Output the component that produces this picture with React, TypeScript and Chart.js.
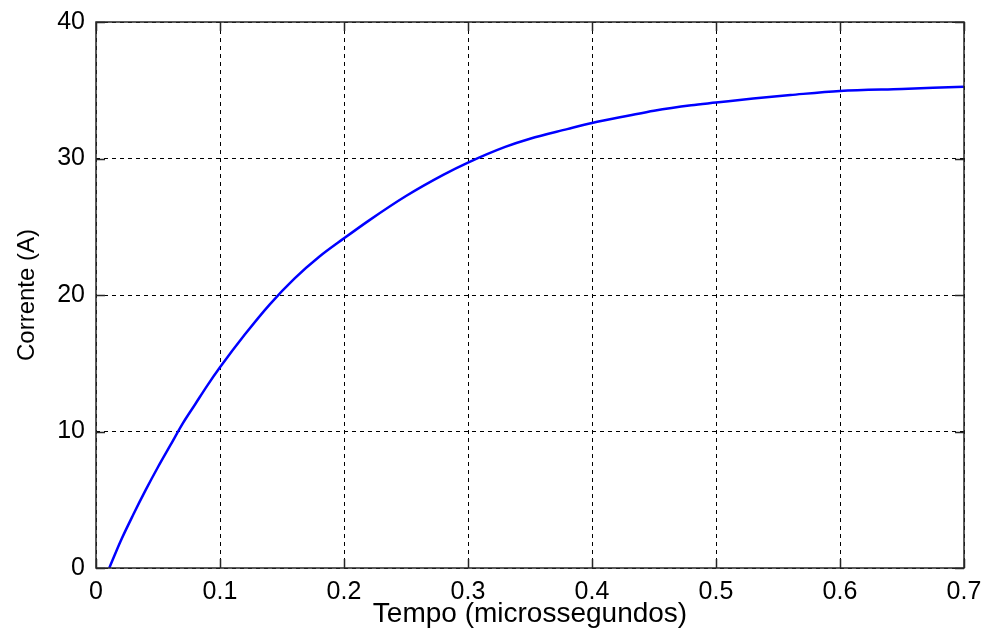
import React, { useEffect, useRef } from "react";
import { Chart, registerables } from "chart.js";

Chart.register(...registerables);

// Tempo (microssegundos)
const timeUs = [
  0.0107, 0.02, 0.03, 0.04, 0.05, 0.06, 0.07, 0.08, 0.09, 0.1,
  0.12, 0.14, 0.16, 0.18, 0.2, 0.22, 0.25, 0.28, 0.3, 0.33,
  0.35, 0.38, 0.4, 0.43, 0.45, 0.48, 0.5, 0.53, 0.56, 0.6, 0.65, 0.7,
];
// Corrente (A)
const currentA = [
  0, 2.0, 3.9, 5.7, 7.4, 9.0, 10.6, 12.0, 13.4, 14.7,
  17.1, 19.3, 21.2, 22.8, 24.15, 25.45, 27.25, 28.8, 29.7, 30.85,
  31.45, 32.15, 32.6, 33.15, 33.5, 33.9, 34.1, 34.4, 34.65, 34.95, 35.1, 35.25,
];

const xTicks = [0, 0.1, 0.2, 0.3, 0.4, 0.5, 0.6, 0.7];
const xTickLabels = ["0", "0.1", "0.2", "0.3", "0.4", "0.5", "0.6", "0.7"];
const yTicks = [0, 10, 20, 30, 40];
const yTickLabels = ["0", "10", "20", "30", "40"];

const FONT = "'Liberation Sans', Arial, Helvetica, sans-serif";

const boxPlugin = {
  id: "matlabBox",
  afterDraw(chart: any) {
    const { ctx, chartArea, scales } = chart;
    const { left, right, top, bottom } = chartArea;
    const x = scales.x;
    const y = scales.y;
    ctx.save();
    ctx.setLineDash([]);
    ctx.strokeStyle = "#262626";
    ctx.lineWidth = 1.5;
    ctx.strokeRect(left, top, right - left, bottom - top);
    const L = 9;
    ctx.beginPath();
    xTicks.forEach((v) => {
      const px = Math.round(x.getPixelForValue(v)) + 0.5;
      ctx.moveTo(px, bottom);
      ctx.lineTo(px, bottom - L);
      ctx.moveTo(px, top);
      ctx.lineTo(px, top + L);
    });
    yTicks.forEach((v) => {
      const py = Math.round(y.getPixelForValue(v)) + 0.5;
      ctx.moveTo(left, py);
      ctx.lineTo(left + L, py);
      ctx.moveTo(right, py);
      ctx.lineTo(right - L, py);
    });
    ctx.stroke();
    ctx.restore();
  },
};

export default function App() {
  const canvasRef = useRef<HTMLCanvasElement | null>(null);

  useEffect(() => {
    const canvas = canvasRef.current;
    if (!canvas) return;
    const points = timeUs.map((t, i) => ({ x: t, y: currentA[i] }));
    const chart = new Chart(canvas, {
      type: "line",
      data: {
        datasets: [
          {
            data: points,
            borderColor: "#0000ff",
            borderWidth: 2.5,
            pointRadius: 0,
            fill: false,
            cubicInterpolationMode: "monotone",
          },
        ],
      },
      options: {
        responsive: false,
        animation: false,
        devicePixelRatio: 1,
        layout: { padding: { left: 0, top: 22, right: 22, bottom: 0 } },
        plugins: {
          legend: { display: false },
          tooltip: { enabled: false },
        },
        scales: {
          x: {
            type: "linear",
            min: 0,
            max: 0.7,
            afterBuildTicks: (scale: any) => {
              scale.ticks = xTicks.map((v) => ({ value: v }));
            },
            afterFit: (scale: any) => {
              scale.height = 67;
              scale.paddingLeft = 0;
              scale.paddingRight = 0;
            },
            grid: {
              color: "#000000",
              lineWidth: 1,
              drawTicks: false,
            },
            border: { display: false, dash: [4, 4] },
            ticks: {
              color: "#000000",
              padding: 9,
              maxRotation: 0,
              autoSkip: false,
              font: { family: FONT, size: 25 },
              callback: (_v: any, i: number) => xTickLabels[i],
            },
            title: {
              display: true,
              text: "Tempo (microssegundos)",
              color: "#000000",
              font: { family: FONT, size: 28 },
              padding: { top: 0, bottom: 4 },
            },
          },
          y: {
            type: "linear",
            min: 0,
            max: 40,
            afterBuildTicks: (scale: any) => {
              scale.ticks = yTicks.map((v) => ({ value: v }));
            },
            afterFit: (scale: any) => {
              scale.width = 96;
              scale.paddingTop = 0;
              scale.paddingBottom = 0;
            },
            grid: {
              color: "#000000",
              lineWidth: 1,
              drawTicks: false,
            },
            border: { display: false, dash: [4, 4] },
            ticks: {
              color: "#000000",
              padding: 11,
              autoSkip: false,
              font: { family: FONT, size: 25 },
              callback: (_v: any, i: number) => yTickLabels[i],
            },
            title: {
              display: true,
              text: "Corrente (A)",
              color: "#000000",
              font: { family: FONT, size: 24 },
              padding: { top: 13, bottom: 0 },
            },
          },
        },
      },
      plugins: [boxPlugin],
    } as any);
    return () => chart.destroy();
  }, []);

  return (
    <div style={{ position: "fixed", left: 0, top: 0, width: 986, height: 635, background: "#fff" }}>
      <canvas ref={canvasRef} width={986} height={635} style={{ display: "block", width: 986, height: 635 }} />
    </div>
  );
}
